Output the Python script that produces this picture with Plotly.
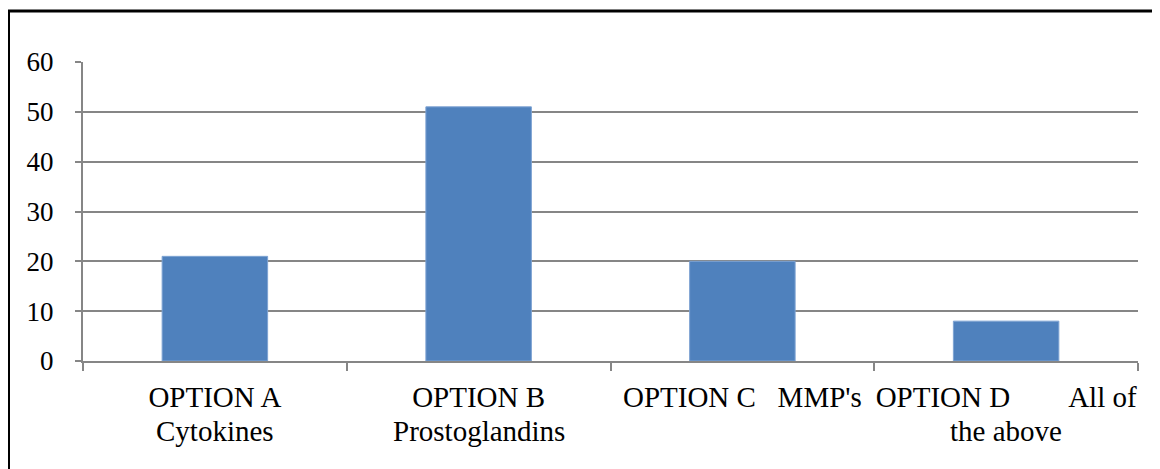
import plotly.graph_objects as go

NBSP = "\u00a0"

categories = ["A", "B", "C", "D"]
label_line1 = [
    "OPTION A",
    "OPTION B",
    "OPTION C" + NBSP * 3 + "MMP's",
    "OPTION D" + NBSP * 8 + "All of",
]
label_line2 = ["Cytokines", "Prostoglandins", "", "the above"]
values = [21, 51, 20, 8]
y_ticks = [0, 10, 20, 30, 40, 50, 60]

# page body has an 8px margin, so the figure is a bit smaller than the window
W, H = 1152, 461
L, R, T, B = 75, 22, 54, 108
pw, ph = W - L - R, H - T - B

serif = "Liberation Serif, Times New Roman, serif"
xfont = dict(family=serif, size=29, color="#000000")
yfont = dict(family=serif, size=27, color="#000000")

fig = go.Figure(
    go.Bar(
        x=categories,
        y=values,
        width=0.4,
        marker=dict(color="#4F81BD", line=dict(color="#7EA3D3", width=1)),
    )
)

annotations = [
    dict(
        x=c, y=0, xref="x", yref="paper",
        text=t, showarrow=False,
        yanchor="top", yshift=-52,
        font=xfont,
    )
    for c, t in zip(categories, label_line2) if t
]

fig.update_layout(
    width=W,
    height=H,
    margin=dict(l=L, r=R, t=T, b=B, autoexpand=False),
    paper_bgcolor="white",
    plot_bgcolor="white",
    showlegend=False,
    xaxis=dict(
        type="category",
        tickvals=categories,
        ticktext=label_line1,
        tickangle=0,
        automargin=False,
        showline=True,
        linecolor="#868686",
        linewidth=2,
        ticks="outside",
        tickson="boundaries",
        ticklen=8,
        tickwidth=2,
        tickcolor="#868686",
        showgrid=False,
        tickfont=xfont,
        ticklabelstandoff=9,
    ),
    yaxis=dict(
        range=[0, 60],
        tickvals=y_ticks,
        automargin=False,
        showline=True,
        linecolor="#868686",
        linewidth=2,
        ticks="outside",
        ticklen=6,
        tickwidth=2,
        tickcolor="#868686",
        showgrid=True,
        gridcolor="#868686",
        gridwidth=2,
        zeroline=False,
        ticklabelstandoff=16,
        tickfont=yfont,
    ),
    annotations=annotations,
    shapes=[
        dict(
            type="rect",
            xref="paper",
            yref="paper",
            x0=(0.5 - L) / pw,
            x1=(W - 3 - L) / pw,
            y0=(T + ph - 480) / ph,
            y1=(T + ph - 3) / ph,
            line=dict(color="#000000", width=3),
            fillcolor="rgba(0,0,0,0)",
        )
    ],
)

fig.write_html("out.html")
